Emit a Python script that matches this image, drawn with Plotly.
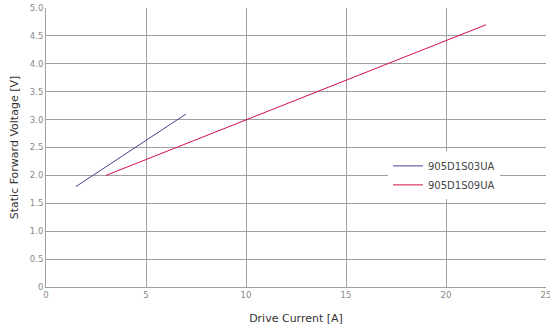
import plotly.graph_objects as go

s1_name = "905D1S03UA"
s1_x = [1.5, 7.0]
s1_y = [1.8, 3.1]
s2_name = "905D1S09UA"
s2_x = [3.0, 22.0]
s2_y = [2.0, 4.7]

fig = go.Figure()
fig.add_trace(go.Scatter(x=s1_x, y=s1_y, mode="lines", name=s1_name,
                         line=dict(color="#4a3f94", width=1)))
fig.add_trace(go.Scatter(x=s2_x, y=s2_y, mode="lines", name=s2_name,
                         line=dict(color="#d1103f", width=1)))

fig.update_layout(
    width=550, height=331,
    margin=dict(l=46, r=4, t=8, b=44),
    paper_bgcolor="white", plot_bgcolor="white",
    font=dict(family="DejaVu Sans", size=9, color="#555"),
    showlegend=True,
    legend=dict(x=19.9/25, y=2.0/5, xanchor="center", yanchor="middle",
                bgcolor="white", font=dict(size=10, color="#444"),
                tracegroupgap=0, itemwidth=30),
    xaxis=dict(range=[0, 25], dtick=5, showgrid=True, gridcolor="#a0a0a0",
               gridwidth=1, showline=True, linecolor="#a0a0a0", zeroline=False,
               automargin=False,
               ticks="", tickfont=dict(size=8.5, color="#888"), ticklabeloverflow="allow",
               title=dict(text="Drive Current [A]", font=dict(size=11, color="#333"))),
    yaxis=dict(range=[0, 5], dtick=0.5, showgrid=True, gridcolor="#a0a0a0",
               gridwidth=1, showline=True, linecolor="#a0a0a0", zeroline=False,
               automargin=True,
               ticks="", tickfont=dict(size=8.5, color="#888"),
               tickvals=[0, 0.5, 1, 1.5, 2, 2.5, 3, 3.5, 4, 4.5, 5],
               ticktext=["0", "0.5", "1.0", "1.5", "2.0", "2.5", "3.0", "3.5", "4.0", "4.5", "5.0"],
               title=dict(text="Static Forward Voltage [V]", font=dict(size=11, color="#333"), standoff=8)),
)

fig.write_html("out.html")
